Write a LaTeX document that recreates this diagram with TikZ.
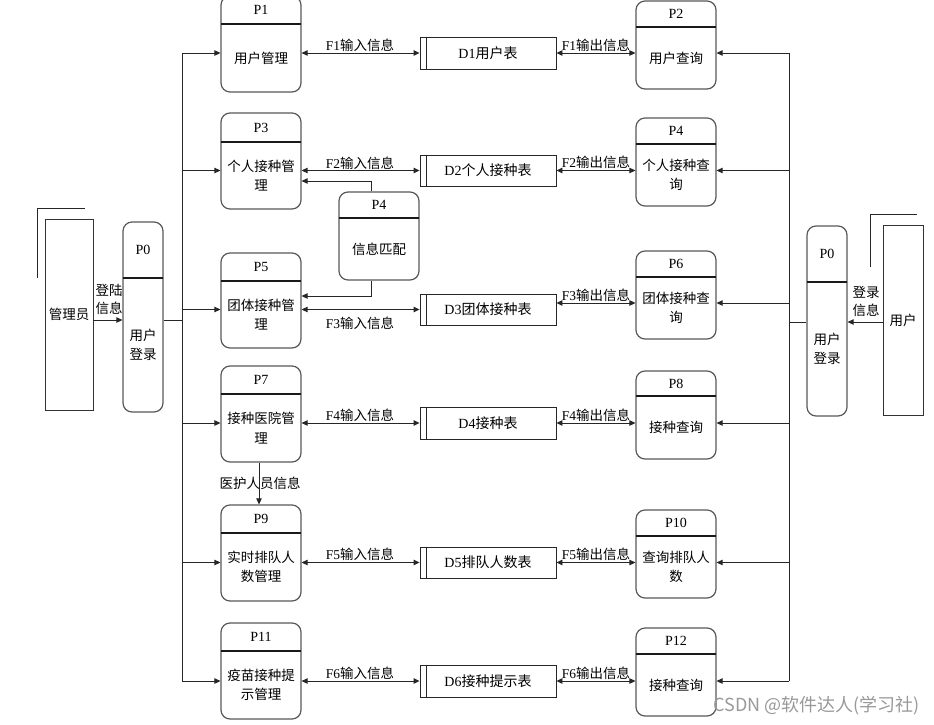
\documentclass[tikz,border=0pt]{standalone}
\usepackage{fontspec}
\setmainfont{Liberation Serif}
\newfontfamily\cjk{Noto Sans CJK SC}
\usetikzlibrary{arrows.meta}
\newcommand\zh[1]{{\cjk #1}}
\tikzset{
  pbox/.style={draw=black!65, line width=1.2pt, rounded corners=9pt, rectangle, inner sep=0pt},
  pdiv/.style={draw=black!90, line width=1.1pt},
  ptitle/.style={font=\fontsize{14}{15}\selectfont, inner sep=0pt},
  pbody/.style={font=\cjk\fontsize{13.5}{19.5}\selectfont, align=center, inner sep=0pt},
  flab/.style={font=\fontsize{13.5}{15}\selectfont, inner sep=0pt},
  store/.style={draw=black!85, line width=0.9pt, rectangle, minimum width=136, minimum height=32, font=\fontsize{14}{15}\selectfont, inner sep=0pt},
  ent/.style={draw=black!80, line width=0.9pt, rectangle, font=\cjk\fontsize{13.5}{15}\selectfont, inner sep=0pt},
  pline/.style={draw=black!85, line width=0.9pt},
  arr/.style={pline, -{Triangle[length=6pt,width=5.5pt]}},
  dbl/.style={pline, {Triangle[length=6pt,width=5.5pt]}-{Triangle[length=6pt,width=5.5pt]}},
}
\newcommand\proc[8]{% 1 name,2 cx,3 w,4 top,5 bot,6 div,7 title,8 body
  \node[pbox, minimum width=#3, minimum height={#5-#4}] (#1) at (#2,{(#4+#5)/2}) {};
  \draw[pdiv] ({#2-#3/2},#6) -- ({#2+#3/2},#6);
  \node[ptitle] (#1t) at (#2,{(#4+#6)/2}) {#7};
  \node[pbody] (#1b) at (#2,{(#6+#5)/2}) {#8};
}
\begin{document}
\begin{tikzpicture}[x=1pt,y=-1pt]
\useasboundingbox[fill=white] (0,0) rectangle (934,725);

% left processes
\proc{L1}{261}{80}{-4}{92}{24}{P1}{用户管理}
\proc{L3}{261}{80}{113}{209}{142}{P3}{个人接种管\\理}
\proc{L5}{261}{80}{253}{348}{281}{P5}{团体接种管\\理}
\proc{L7}{261}{80}{366}{462}{394}{P7}{接种医院管\\理}
\proc{L9}{261}{80}{505}{601}{533}{P9}{实时排队人\\数管理}
\proc{L11}{261}{80}{623}{719}{651}{P11}{疫苗接种提\\示管理}
% right processes
\proc{R2}{676}{80}{1}{89}{27}{P2}{用户查询}
\proc{R4}{676}{80}{118}{206}{144}{P4}{个人接种查\\询}
\proc{R6}{676}{80}{251}{339}{277}{P6}{团体接种查\\询}
\proc{R8}{676}{80}{371}{459}{396}{P8}{接种查询}
\proc{R10}{676}{80}{510}{598}{536}{P10}{查询排队人\\数}
\proc{R12}{676}{80}{628}{716}{654}{P12}{接种查询}
% middle and login
\proc{M4}{379}{80}{192}{280}{218}{P4}{信息匹配}
\proc{P0L}{143}{40}{222}{412}{278}{P0}{用户\\登录}
\proc{P0R}{827}{40}{226}{416}{282}{P0}{用户\\登录}

% data stores
\node[store] (D1) at (488,53) {D1\zh{用户表}};
\node[store, minimum height=31] (D2) at (488,170.5) {D2\zh{个人接种表}};
\node[store, minimum height=31] (D3) at (488,309.5) {D3\zh{团体接种表}};
\node[store] (D4) at (488,423) {D4\zh{接种表}};
\node[store, minimum height=31] (D5) at (488,562.5) {D5\zh{排队人数表}};
\node[store] (D6) at (488,681) {D6\zh{接种提示表}};
\foreach \d in {D1,D2,D3,D4,D5,D6}
  \draw[pline] ([xshift=7pt]\d.north west) -- ([xshift=7pt]\d.south west);

% flows left
\draw[dbl] (L1.east |- D1) -- (D1);
\draw[dbl] (L3.east |- D2) -- (D2);
\draw[dbl] (L5.east |- D3) -- (D3);
\draw[dbl] (L7.east |- D4) -- (D4);
\draw[dbl] (L9.east |- D5) -- (D5);
\draw[dbl] (L11.east |- D6) -- (D6);
\node[flab] (fi1) at (360,45) {F1\zh{输入信息}};
\node[flab] (fi2) at (360,163) {F2\zh{输入信息}};
\node[flab] (fi3) at (360,323) {F3\zh{输入信息}};
\node[flab] (fi4) at (360,415) {F4\zh{输入信息}};
\node[flab] (fi5) at (360,554) {F5\zh{输入信息}};
\node[flab] (fi6) at (360,673) {F6\zh{输入信息}};

% flows right
\coordinate (f3o) at ([yshift=6.5pt]D3.east);
\draw[dbl] (D1) -- (D1 -| R2.west);
\draw[dbl] (D2) -- (D2 -| R4.west);
\draw[dbl] (f3o) -- (f3o -| R6.west);
\draw[dbl] (D4) -- (D4 -| R8.west);
\draw[dbl] (D5) -- (D5 -| R10.west);
\draw[dbl] (D6) -- (D6 -| R12.west);
\node[flab] (fo1) at (596,45) {F1\zh{输出信息}};
\node[flab] (fo2) at (596,162) {F2\zh{输出信息}};
\node[flab] (fo3) at (596,295) {F3\zh{输出信息}};
\node[flab] (fo4) at (596,415) {F4\zh{输出信息}};
\node[flab] (fo5) at (596,554) {F5\zh{输出信息}};
\node[flab] (fo6) at (596,673) {F6\zh{输出信息}};

% left bus
\coordinate (bL1) at (182,53);
\coordinate (bL2) at (182,681);
\coordinate (bLc) at (182,320);
\draw[pline] (bL1) -- (bL2);
\draw[pline] (P0L.east |- bLc) -- (bLc);
\draw[arr] (bL1) -- (L1.west |- bL1);
\draw[arr] (bL1 |- D2) -- (L3.west |- D2);
\draw[arr] (bL1 |- D3) -- (L5.west |- D3);
\draw[arr] (bL1 |- D4) -- (L7.west |- D4);
\draw[arr] (bL1 |- D5) -- (L9.west |- D5);
\draw[arr] (bL1 |- D6) -- (L11.west |- D6);

% right bus
\coordinate (bR1) at (789,53);
\coordinate (bR2) at (789,681);
\coordinate (bRc) at (789,322);
\draw[pline] (bR1) -- (bR2);
\draw[pline] (P0R.west |- bRc) -- (bRc);
\draw[arr] (bR1) -- (R2.east |- bR1);
\draw[arr] (bR1 |- D2) -- (R4.east |- D2);
\draw[arr] (bR1 |- f3o) -- (R6.east |- f3o);
\draw[arr] (bR1 |- D4) -- (R8.east |- D4);
\draw[arr] (bR1 |- D5) -- (R10.east |- D5);
\draw[arr] (bR1 |- D6) -- (R12.east |- D6);

% P4 matching
\coordinate (m4a) at (371,181);
\coordinate (m4b) at (371,296);
\draw[arr] (M4.north -| m4a) -- (m4a) -- (L3.east |- m4a);
\draw[arr] (M4.south -| m4b) -- (m4b) -- (L5.east |- m4b);

% P7 -> P9
\coordinate (m79) at (259,480);
\draw[arr] (L7.south -| m79) -- (L9.north -| m79);
\node[flab, font=\cjk\fontsize{13.5}{15}\selectfont] (l79) at (260,483) {医护人员信息};

% external entities
\node[ent, minimum width=48, minimum height=191] (E1) at (69,314.5) {管理员};
\draw[pline] (37,278) -- (37,208) -- (85,208);
\draw[arr] (E1.east |- bLc) -- (P0L.west |- bLc);
\node[pbody, font=\cjk\fontsize{13.5}{18}\selectfont] (le1) at (109,299) {登陆\\信息};

\node[ent, minimum width=40, minimum height=190] (E2) at (903,320) {用户};
\draw[pline] (870,267) -- (870,214) -- (917,214);
\draw[arr] (E2.west |- bRc) -- (P0R.east |- bRc);
\node[pbody, font=\cjk\fontsize{13.5}{18}\selectfont] (le2) at (866,301) {登录\\信息};

% watermark
\node[text=black!40, font=\cjk\fontsize{18}{18}\selectfont, anchor=east, inner sep=0pt] (wm) at (920,706) {CSDN @软件达人(学习社)};
\end{tikzpicture}
\end{document}
